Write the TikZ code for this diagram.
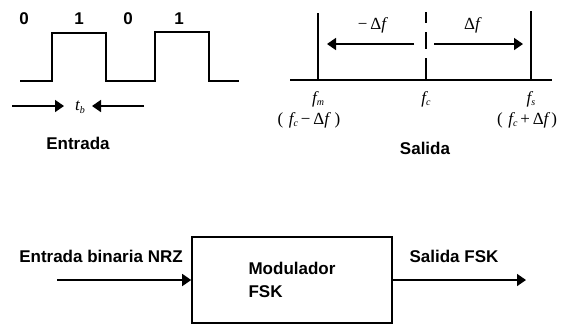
\documentclass[tikz,border=0pt]{standalone}
\usepackage{fontspec}
\setmainfont{Liberation Sans}
\newfontfamily\tmsfont{Liberation Serif}
\newcommand\lowsub[1]{\raisebox{-0.35ex}{\fontsize{10}{10}\selectfont #1}}
\usetikzlibrary{arrows.meta}
\begin{document}
\begin{tikzpicture}[x=1pt,y=-1pt,
  ln/.style={line width=1.6pt},
  arr/.style={line width=1.6pt,-{Triangle[length=9pt,width=12pt]}},
  lbl/.style={font=\fontsize{17}{23}\selectfont\bfseries,inner sep=0pt},
  mlbl/.style={font=\fontsize{17}{20}\selectfont\tmsfont\itshape,inner sep=0pt},
  modbox/.style={draw,line width=1.6pt,minimum width=200pt,minimum height=86pt,inner sep=0pt,align=left,font=\fontsize{17}{23}\selectfont\bfseries}]
\useasboundingbox (0,0) rectangle (561,325);
% waveform
\draw[ln] (20,81) -- (52,81) -- (52,33) -- (106,33) -- (106,81) -- (155,81) -- (155,32) -- (209,32) -- (209,81) -- (239,81);
\node[lbl] (b0) at (24,19) {0};
\node[lbl] (b1) at (79,19) {1};
\node[lbl] (b2) at (128,19) {0};
\node[lbl] (b3) at (179,19) {1};
\node[mlbl] (tb) at (80,107) {t\lowsub{b}};
\coordinate (tbl) at (12,106);
\coordinate (tbr) at (144,106);
\draw[arr] (tbl) -- (64,106);
\draw[arr] (tbr) -- (92,106);
\node[lbl] (ent) at (78,143) {Entrada};
% spectrum
\draw[ln] (290,80) -- (552,80);
\draw[ln] (318,13) -- (318,80);
\draw[ln] (531,11) -- (531,80);
\draw[ln] (426,12) -- (426,23) (426,32) -- (426,49) (426,58) -- (426,80);
\coordinate (al) at (414,44);
\coordinate (ar) at (434,44);
\draw[arr] (al) -- (327,44);
\draw[arr] (ar) -- (523,44);
\node[mlbl] (mdf) at (372,25) {{\upshape −\,Δ}f};
\node[mlbl] (pdf) at (472,25) {{\upshape Δ}f};
\node[mlbl] (fm) at (318,99) {f\lowsub{m}};
\node[mlbl] (fc) at (426,99) {f\lowsub{c}};
\node[mlbl] (fs) at (531,99) {f\lowsub{s}};
\node[mlbl] (fml) at (309,120) {{\upshape (}\,\,f\lowsub{c}\,{\upshape −\,Δ}f\,\,{\upshape )}};
\node[mlbl] (fsl) at (527,120) {{\upshape (}\,\,f\lowsub{c}\,{\upshape +\,Δ}f\,{\upshape )}};
\node[lbl] (sal) at (425,148) {Salida};
% block diagram
\node[modbox] (mod) at (292,280) {Modulador\\FSK};
\coordinate (inp) at (57,280);
\coordinate (outp) at (526,280);
\draw[arr] (inp) -- (mod.west);
\draw[arr] (mod.east) -- (outp);
\node[lbl] (ebn) at (101,256) {Entrada binaria NRZ};
\node[lbl] (sfsk) at (454,256) {Salida FSK};
\end{tikzpicture}
\end{document}
